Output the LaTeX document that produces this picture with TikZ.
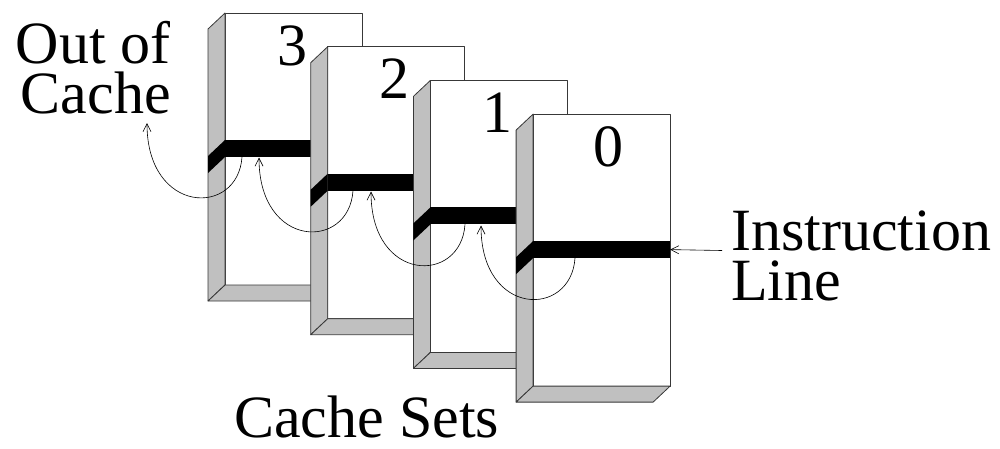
\documentclass[tikz,border=0pt]{standalone}
\usepackage{fontspec}
\setmainfont{Liberation Serif}
\usetikzlibrary{arrows.meta}
\definecolor{sidegray}{HTML}{C0C0C0}
\definecolor{edgecol}{HTML}{383838}
\begin{document}
\begin{tikzpicture}[x=1pt,y=-1pt,
  face/.style={draw=edgecol,line width=0.8pt,line join=round},
  lbl/.style={inner sep=0pt,font=\fontsize{60}{50}\selectfont},
  conn/.style={line width=0.6pt,-{Straight Barb[length=8pt,width=8pt]}},
  loop/.style={conn}]
\useasboundingbox (0,0) rectangle (1000,448);
% boxes, back to front
\foreach \k/\lab/\nx/\sx in {0/3/292/242,1/2/394/353,2/1/497/465,3/0/608/575}{
  \pgfmathsetmacro\fl{225+102.7*\k}
  \pgfmathsetmacro\ft{13+33.7*\k}
  \pgfmathsetmacro\fr{\fl+137}
  \pgfmathsetmacro\fb{\ft+272}
  \pgfmathsetmacro\bt{\ft+127}
  \pgfmathsetmacro\bb{\ft+144}
  \filldraw[face,fill=white] (\fl,\ft) rectangle (\fr,\fb);
  \filldraw[face,fill=sidegray] (\fl,\ft) -- (\fl-17,\ft+16) -- (\fl-17,\fb+16) -- (\fl,\fb) -- cycle;
  \filldraw[face,fill=sidegray] (\fl,\fb) -- (\fl-17,\fb+16) -- (\fr-17,\fb+16) -- (\fr,\fb) -- cycle;
  \fill[black] (\fl,\bt) rectangle (\fr,\bb);
  \fill[black] (\fl,\bt) -- (\fl-17,\bt+16) -- (\fl-17,\bb+16) -- (\fl,\bb) -- cycle;
  \node[lbl,anchor=base] (n\lab) at (\nx,\ft+52) {\lab};
  \coordinate (s\lab) at (\sx,\bb);
  \coordinate (e\lab) at (\fr,\bt+8.5);
}
% arrow tips (bottom of the next bar up / out of cache)
\coordinate (t0) at (481,225.5);
\coordinate (t1) at (371,191.5);
\coordinate (t2) at (259,157.5);
\coordinate (t3) at (147,123);
\foreach \i in {0,1,2,3}{
  \draw[loop] (s\i) .. controls +(-4,60) and +(0,92) .. (t\i);
}
% labels
\node[lbl,align=right,anchor=south east] (out) at (171,114) {Out of\\Cache};
\node[lbl,align=left,anchor=south west] (ins) at (731,301) {Instruction\\Line};
\node[lbl,anchor=base west] (sets) at (234,437) {Cache Sets};
\coordinate (ia) at (722,250.5);
\draw[conn] (ia) -- (e0);
\end{tikzpicture}
\end{document}
